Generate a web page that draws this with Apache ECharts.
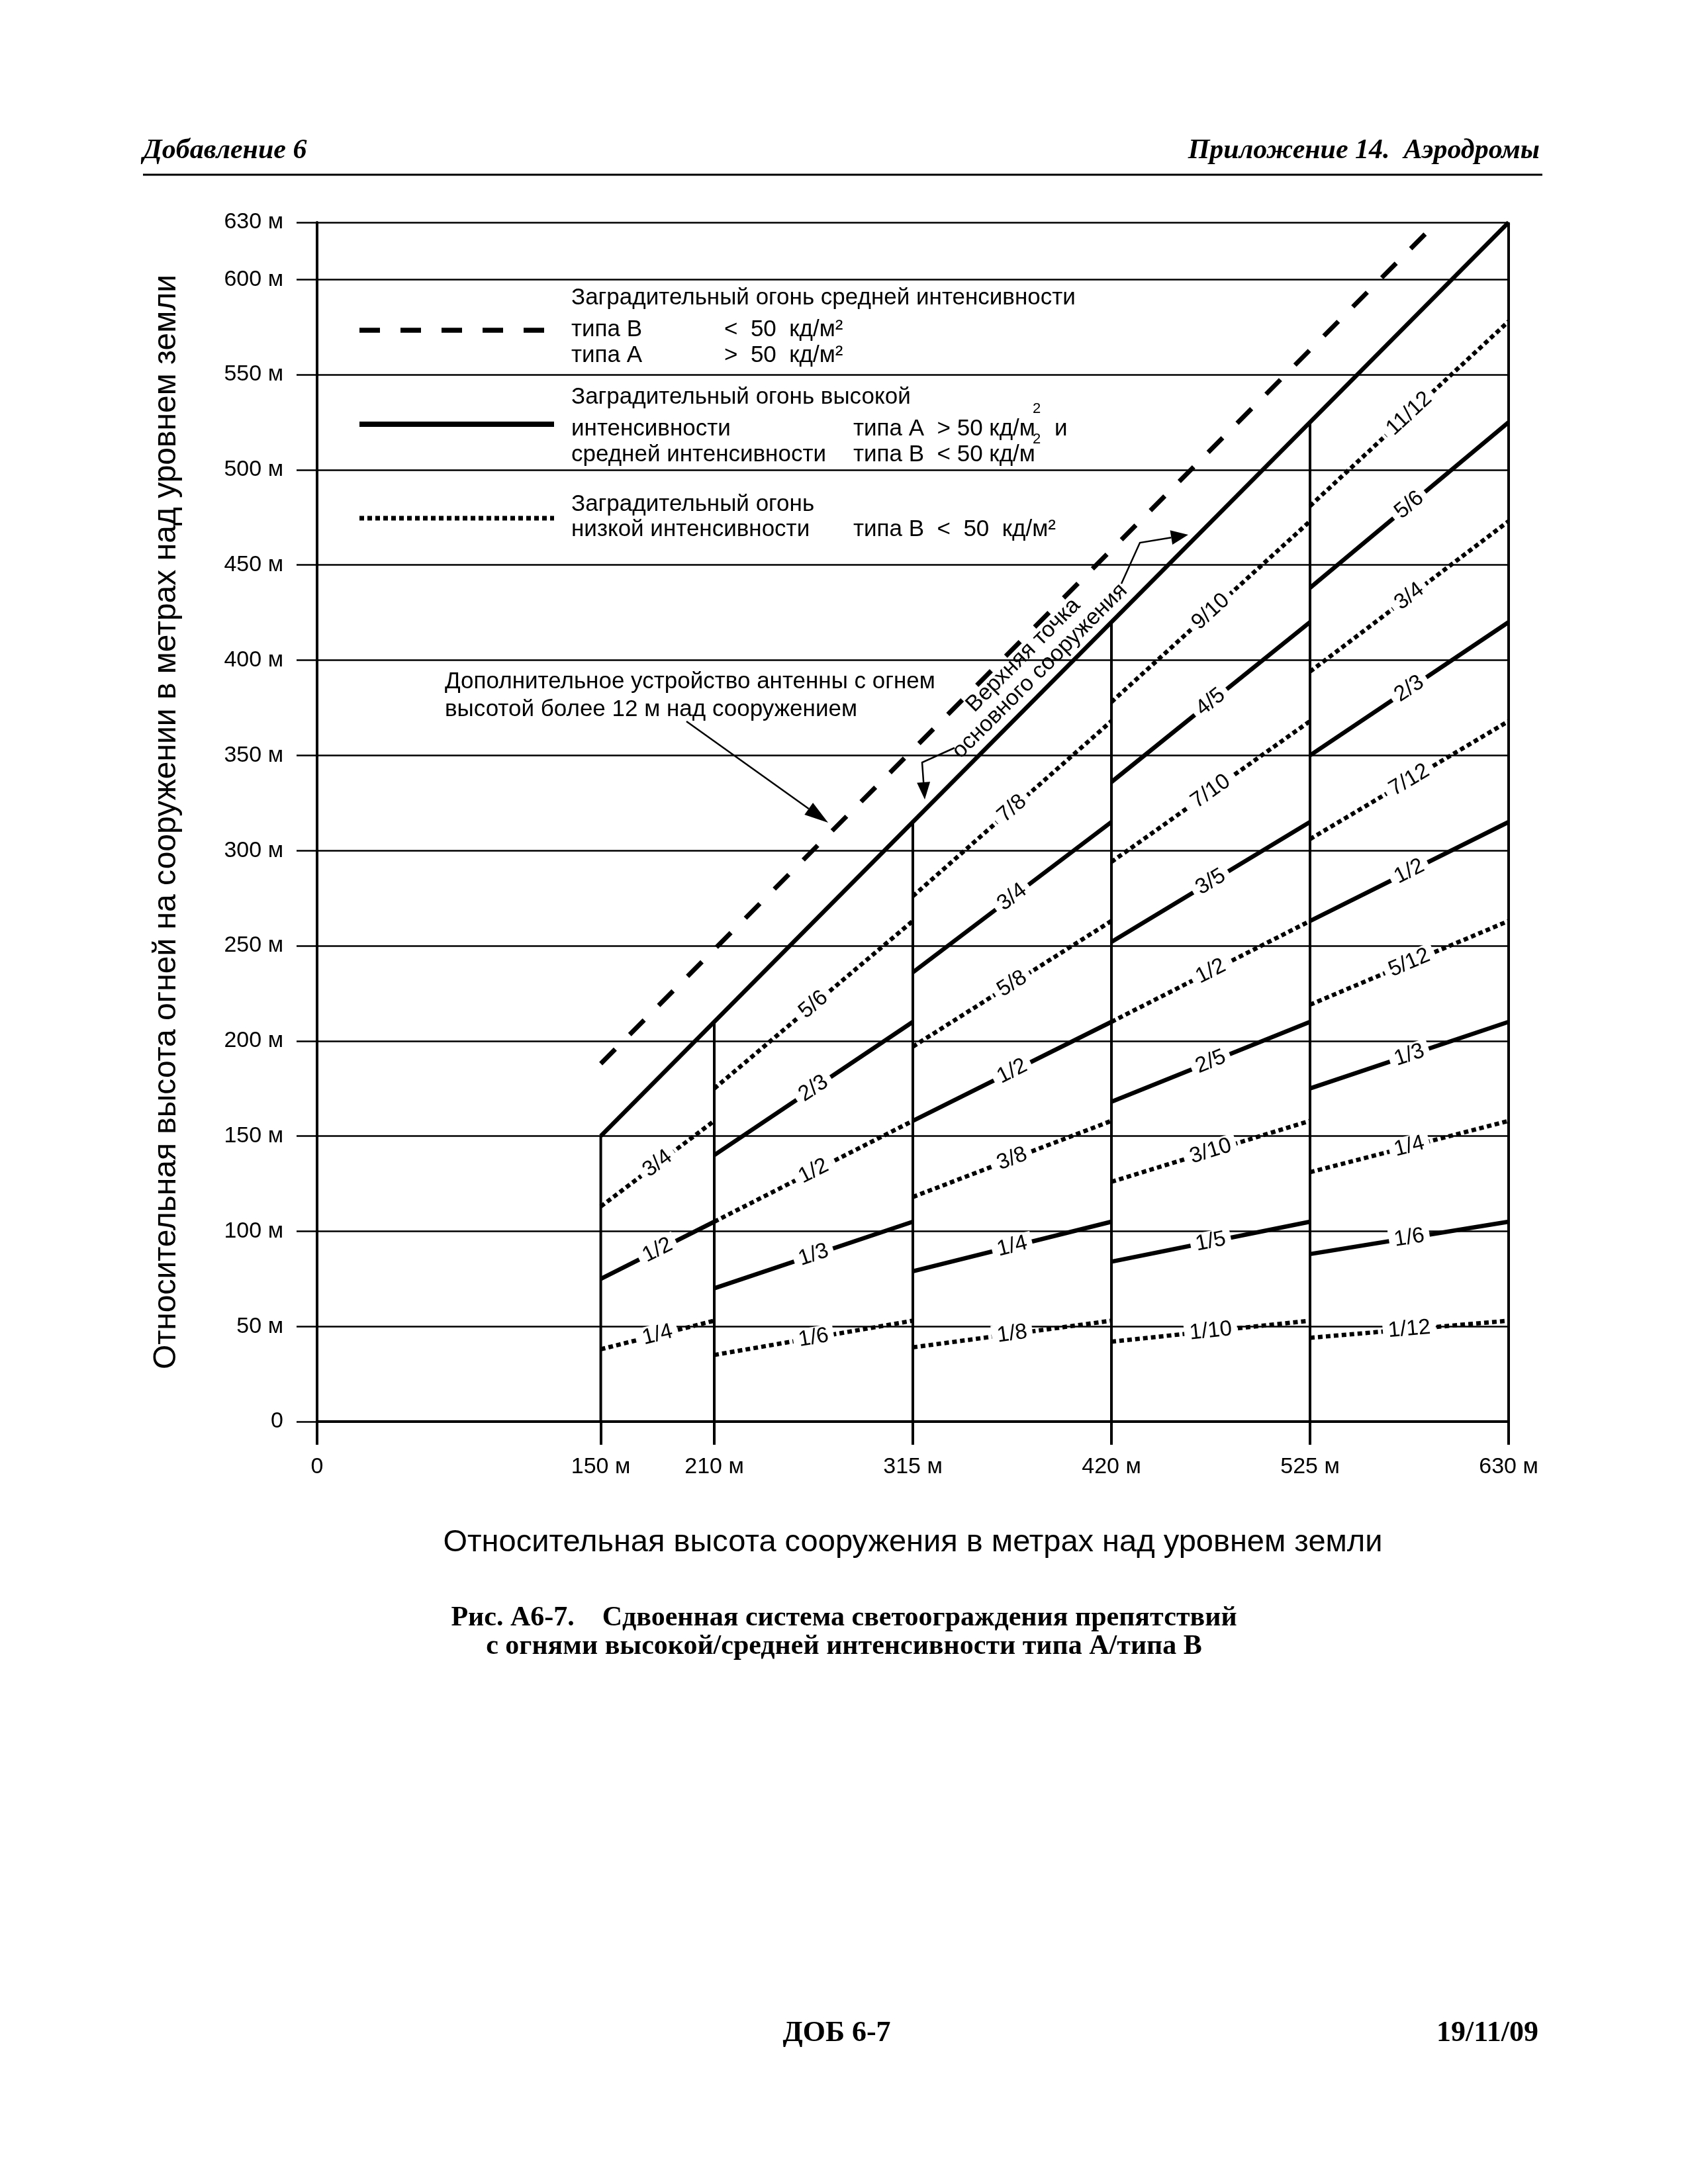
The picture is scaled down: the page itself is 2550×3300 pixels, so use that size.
<!DOCTYPE html>
<html><head><meta charset="utf-8">
<script src="https://cdn.jsdelivr.net/npm/echarts@6/dist/echarts.min.js"></script>
<style>html,body{margin:0;padding:0;background:#fff}#c{width:2550px;height:3300px}</style>
</head><body><div id="c"></div>
<script>
// ---------- data ----------
const xTickValues = [0, 150, 210, 315, 420, 525, 630];
const yMin = 0, yMax = 630, yStep = 50;
const towerHeights = [150, 210, 315, 420, 525, 630];          // vertical lines: x = height, from 0 up to height
const structureTop = [[150, 150], [630, 630]];                  // top of main structure
const antennaLine = [[150, 188], [592, 630]];                   // additional antenna (dashed)
// [label, x1, y1, x2, y2]
const solidSegments = [
  ['1/2', 150, 75, 210, 105],
  ['2/3', 210, 140, 315, 210],
  ['1/3', 210, 70, 315, 105],
  ['3/4', 315, 236, 420, 315],
  ['1/2', 315, 158, 420, 210],
  ['1/4', 315, 79, 420, 105],
  ['4/5', 420, 336, 525, 420],
  ['3/5', 420, 252, 525, 315],
  ['2/5', 420, 168, 525, 210],
  ['1/5', 420, 84, 525, 105],
  ['5/6', 525, 438, 630, 525],
  ['2/3', 525, 350, 630, 420],
  ['1/2', 525, 263, 630, 315],
  ['1/3', 525, 175, 630, 210],
  ['1/6', 525, 88, 630, 105]
];
const dottedSegments = [
  ['3/4', 150, 113, 210, 158],
  ['1/4', 150, 38, 210, 53],
  ['5/6', 210, 175, 315, 263],
  ['1/2', 210, 105, 315, 158],
  ['1/6', 210, 35, 315, 53],
  ['7/8', 315, 276, 420, 368],
  ['5/8', 315, 197, 420, 263],
  ['3/8', 315, 118, 420, 158],
  ['1/8', 315, 39, 420, 53],
  ['9/10', 420, 378, 525, 473],
  ['7/10', 420, 294, 525, 368],
  ['1/2', 420, 210, 525, 263],
  ['3/10', 420, 126, 525, 158],
  ['1/10', 420, 42, 525, 53],
  ['11/12', 525, 481, 630, 578],
  ['3/4', 525, 394, 630, 473],
  ['7/12', 525, 306, 630, 368],
  ['5/12', 525, 219, 630, 263],
  ['1/4', 525, 131, 630, 158],
  ['1/12', 525, 44, 630, 53]
];
const xAxisTitle = 'Относительная высота сооружения в метрах над уровнем земли';
const yAxisTitle = 'Относительная высота огней на сооружении в метрах над уровнем земли';

// ---------- styles ----------
const SANS = "'Liberation Sans', Arial, sans-serif";
const SERIF = "'Liberation Serif', 'Times New Roman', serif";
const SOLID = { color: '#000', width: 6.5, type: 'solid', cap: 'butt' };
const DOTTED = { color: '#000', width: 6.5, type: [7, 5], cap: 'butt' };
const DASHED = { color: '#000', width: 7, type: [31, 31], cap: 'butt' };
const THIN = { color: '#000', width: 4, type: 'solid', cap: 'butt' };

function lineSeries(name, data, style, z) {
  return { type: 'line', name, data, symbol: 'none', showSymbol: false, silent: true,
    animation: false, lineStyle: style, z: z || 3 };
}
function segSeries(seg, style, kind) {
  const [lab, x1, y1, x2, y2] = seg;
  const s = lineSeries(kind + ' ' + lab, [[x1, y1], [x2, y2]], style, 3);
  s.markLine = {
    silent: true, animation: false, symbol: ['none', 'none'],
    lineStyle: { color: 'rgba(0,0,0,0)', width: 1, type: 'solid' },
    label: { show: true, position: 'insideMiddle', formatter: lab, color: '#000',
      fontFamily: SANS, fontSize: 33, backgroundColor: '#fff', padding: [0, 8] },
    emphasis: { disabled: true },
    data: [[{ coord: [x1, y1] }, { coord: [x2, y2] }]]
  };
  return s;
}

const series = [];
towerHeights.forEach(h => series.push(lineSeries('tower ' + h, [[h, 0], [h, h]], THIN, 2)));
series.push(lineSeries('structure top', structureTop, SOLID, 3));
series.push(lineSeries('antenna', antennaLine, DASHED, 3));
solidSegments.forEach(s => series.push(segSeries(s, SOLID, 'solid')));
dottedSegments.forEach(s => series.push(segSeries(s, DOTTED, 'dotted')));

// ---------- graphic helpers ----------
function txt(text, x, y, o) {
  o = o || {};
  return { type: 'text', x, y, rotation: o.rotation || 0, silent: true, z: 20,
    style: { text, fill: '#000', fontFamily: o.family || SANS, fontSize: o.size || 35,
      fontWeight: o.weight || 'normal', fontStyle: o.style || 'normal',
      align: o.align || 'left', textAlign: o.align || 'left',
      verticalAlign: 'middle', textVerticalAlign: 'middle' } };
}
function seg(x1, y1, x2, y2, w, dash) {
  return { type: 'line', silent: true, z: 20, shape: { x1, y1, x2, y2 },
    style: { stroke: '#000', lineWidth: w, lineDash: dash || null, lineCap: 'butt' } };
}
function arrow(points, w, len, half) {
  const n = points.length, tip = points[n - 1], prev = points[n - 2];
  const dx = tip[0] - prev[0], dy = tip[1] - prev[1], L = Math.hypot(dx, dy);
  const ux = dx / L, uy = dy / L, bx = tip[0] - ux * len, by = tip[1] - uy * len;
  const body = points.slice(0, n - 1).concat([[bx, by]]);
  return [
    { type: 'polyline', silent: true, z: 20, shape: { points: body },
      style: { stroke: '#000', lineWidth: w, fill: null } },
    { type: 'polygon', silent: true, z: 20,
      shape: { points: [tip, [bx - uy * half, by + ux * half], [bx + uy * half, by - ux * half]] },
      style: { fill: '#000' } }
  ];
}

const graphics = [
  // header
  txt('Добавление 6', 216, 228, { family: SERIF, size: 42, weight: 'bold', style: 'italic' }),
  txt('Приложение 14.  Аэродромы', 2326, 228, { family: SERIF, size: 42, weight: 'bold', style: 'italic', align: 'right' }),
  seg(216, 264, 2330, 264, 3),
  // legend
  seg(543, 499, 831, 499, 7.5, [31, 31]),
  seg(543, 641, 837, 641, 8),
  seg(543, 783, 837, 783, 7, [7, 5]),
  txt('Заградительный огонь средней интенсивности', 863, 450),
  txt('типа В', 863, 498), txt('<  50  кд/м²', 1094, 498),
  txt('типа А', 863, 537), txt('>  50  кд/м²', 1094, 537),
  txt('Заградительный огонь высокой', 863, 600),
  txt('интенсивности', 863, 648), txt('типа А  > 50 кд/м', 1289, 648),
  txt('2', 1560, 618, { size: 22 }), txt('и', 1593, 648),
  txt('средней интенсивности', 863, 687), txt('типа В  < 50 кд/м', 1289, 687),
  txt('2', 1560, 664, { size: 22 }),
  txt('Заградительный огонь', 863, 762),
  txt('низкой интенсивности', 863, 800), txt('типа В  <  50  кд/м²', 1289, 800),
  // annotations
  txt('Дополнительное устройство антенны с огнем', 672, 1030),
  txt('высотой более 12 м над сооружением', 672, 1072),
  ...arrow([[1037, 1090], [1251, 1243]], 2.5, 36, 11),
  txt('Верхняя точка', 1546, 990, { rotation: Math.PI / 4, align: 'center', size: 34 }),
  txt('основного сооружения', 1571, 1014, { rotation: Math.PI / 4, align: 'center', size: 34 }),
  ...arrow([[1694, 882], [1722, 820], [1795, 808]], 2.5, 26, 11),
  ...arrow([[1442, 1130], [1393, 1152], [1397, 1208]], 2.5, 26, 10),
  // caption
  txt('Рис. А6-7.    Сдвоенная система светоограждения препятствий', 1275, 2445, { family: SERIF, size: 42, weight: 'bold', align: 'center' }),
  txt('с огнями высокой/средней интенсивности типа А/типа В', 1275, 2488, { family: SERIF, size: 42, weight: 'bold', align: 'center' }),
  // footer
  txt('ДОБ 6-7', 1264, 3073, { family: SERIF, size: 44, weight: 'bold', align: 'center' }),
  txt('19/11/09', 2324, 3073, { family: SERIF, size: 44, weight: 'bold', align: 'right' })
];

const chart = echarts.init(document.getElementById('c'), null, { renderer: 'canvas' });
chart.setOption({
  backgroundColor: '#fff',
  animation: false,
  textStyle: { fontFamily: SANS, color: '#000' },
  grid: { left: 479, right: 271, top: 336, bottom: 1152, containLabel: false },
  xAxis: {
    type: 'value', min: 0, max: 630,
    name: xAxisTitle, nameLocation: 'middle', nameGap: 160,
    nameTextStyle: { fontSize: 47, color: '#000', fontFamily: SANS },
    axisLine: { show: true, onZero: false, lineStyle: { color: '#000', width: 4 } },
    axisTick: { show: true, customValues: xTickValues, length: 35, lineStyle: { color: '#000', width: 4 } },
    axisLabel: { customValues: xTickValues, fontSize: 34, color: '#000', margin: 52, fontFamily: SANS,
      formatter: v => (v === 0 ? '0' : v + ' м') },
    splitLine: { show: false }
  },
  yAxis: {
    type: 'value', min: yMin, max: yMax, interval: yStep,
    name: yAxisTitle, nameLocation: 'middle', nameGap: 203,
    nameTextStyle: { fontSize: 48, color: '#000', fontFamily: SANS },
    axisLine: { show: true, onZero: false, lineStyle: { color: '#000', width: 4 } },
    axisTick: { show: true, length: 31, lineStyle: { color: '#000', width: 2.5 } },
    axisLabel: { fontSize: 34, color: '#000', margin: 51, fontFamily: SANS,
      formatter: v => (v === 0 ? '0' : v + ' м') },
    splitLine: { show: true, lineStyle: { color: '#000', width: 2.5 } }
  },
  series,
  graphic: { elements: graphics }
});
</script></body></html>
